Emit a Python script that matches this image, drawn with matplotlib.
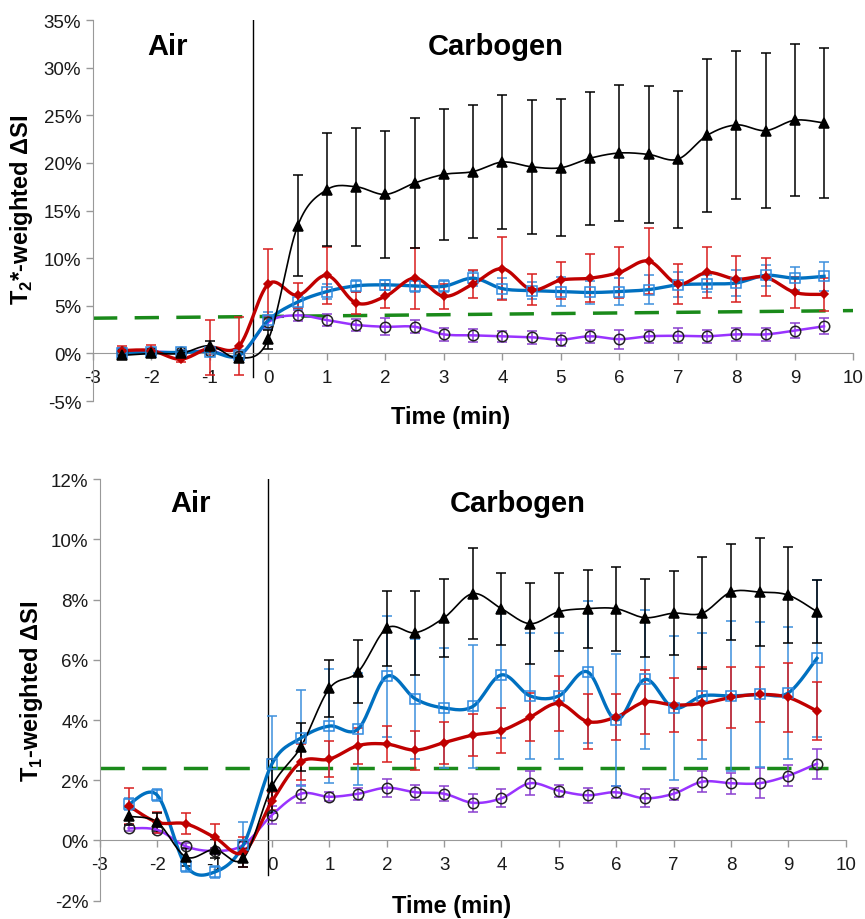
import numpy as np
import matplotlib
matplotlib.use("Agg")
import matplotlib.pyplot as plt
from matplotlib.ticker import FuncFormatter

plt.rcParams['font.family'] = ['Liberation Sans', 'DejaVu Sans']
plt.rcParams['mathtext.fontset'] = 'custom'
plt.rcParams['mathtext.rm'] = 'Liberation Sans'
plt.rcParams['mathtext.bf'] = 'Liberation Sans:bold'
plt.rcParams['axes.unicode_minus'] = False

# Time points (min)
t = [-2.5, -2, -1.5, -1, -0.5, 0, 0.5, 1, 1.5, 2, 2.5, 3, 3.5, 4, 4.5,
     5, 5.5, 6, 6.5, 7, 7.5, 8, 8.5, 9, 9.5]

# T2*-weighted signal change (%)
black_t2 = [-0.2, 0.0, 0.0, 0.8, -0.5, 1.5, 13.4, 17.2, 17.5, 16.7, 17.9, 18.8, 19.1,
            20.1, 19.6, 19.5, 20.5, 21.05, 20.9, 20.4, 22.9, 24.0, 23.4, 24.5, 24.2]
black_t2_err = [0.3, 0.3, 0.3, 0.5, 0.4, 1.0, 5.3, 5.9, 6.2, 6.7, 6.8, 6.9, 7.0,
                7.0, 7.05, 7.2, 7.0, 7.1, 7.2, 7.2, 8.0, 7.8, 8.1, 8.0, 7.9]
red_t2 = [0.3, 0.3, -0.6, 0.6, 0.8, 7.3, 6.1, 8.2, 5.3, 6.0, 7.9, 6.0, 7.3,
          8.9, 6.7, 7.7, 7.9, 8.5, 9.7, 7.3, 8.5, 7.8, 8.0, 6.4, 6.2]
red_t2_err = [0.5, 0.6, 0.3, 2.9, 3.05, 3.7, 1.3, 3.0, 1.2, 1.25, 3.2, 1.3, 1.5,
              3.3, 1.6, 1.95, 2.5, 2.7, 3.5, 2.1, 2.7, 2.45, 2.0, 1.6, 1.7]
blue_t2 = [0.0, 0.1, 0.1, 0.2, -0.2, 3.5, 5.4, 6.5, 7.1, 7.2, 7.1, 7.05, 7.9,
           6.8, 6.6, 6.5, 6.4, 6.5, 6.7, 7.2, 7.3, 7.4, 8.2, 7.9, 8.1]
blue_t2_err = [0.3, 0.3, 0.3, 0.3, 0.3, 0.9, 0.7, 0.8, 0.6, 0.5, 0.6, 0.65, 0.8,
               1.1, 0.9, 1.5, 1.2, 1.4, 1.55, 1.3, 0.9, 1.35, 1.1, 1.2, 1.5]
purple_t2 = [0.2, 0.2, 0.1, 0.3, -0.25, 3.3, 4.0, 3.5, 3.0, 2.8, 2.8, 2.0, 1.9,
             1.8, 1.7, 1.45, 1.8, 1.5, 1.8, 1.85, 1.8, 2.0, 2.0, 2.4, 2.85]
purple_t2_err = [0.4, 0.3, 0.3, 0.4, 0.3, 0.6, 0.6, 0.6, 0.6, 0.9, 0.7, 0.7, 0.7,
                 0.6, 0.7, 0.7, 0.7, 1.0, 0.7, 0.8, 0.7, 0.7, 0.7, 0.8, 0.85]
thresh_x_t2 = [-3, 10]
thresh_t2 = [3.7, 4.5]

# T1-weighted signal change (%)
black_t1 = [0.8, 0.6, -0.55, -0.3, -0.6, 1.8, 3.1, 5.05, 5.6, 7.05, 6.9, 7.4, 8.2,
            7.7, 7.2, 7.6, 7.7, 7.7, 7.4, 7.55, 7.55, 8.25, 8.25, 8.15, 7.6]
black_t1_err = [0.3, 0.3, 0.3, 0.3, 0.3, 0.9, 0.8, 0.95, 1.05, 1.25, 1.4, 1.3, 1.5,
                1.2, 1.35, 1.3, 1.3, 1.4, 1.3, 1.4, 1.85, 1.6, 1.8, 1.6, 1.05]
blue_t1 = [1.2, 1.5, -0.85, -1.05, -0.15, 2.55, 3.4, 3.8, 3.7, 5.45, 4.7, 4.4, 4.45,
           5.5, 4.8, 4.8, 5.6, 4.0, 5.35, 4.4, 4.8, 4.8, 4.85, 4.9, 6.05]
blue_t1_err = [0.2, 0.2, 0.2, 0.2, 0.75, 1.6, 1.6, 1.9, 1.85, 2.0, 2.0, 2.0, 2.05,
               2.1, 2.1, 2.1, 2.35, 2.2, 2.3, 2.4, 2.1, 2.5, 2.4, 2.2, 2.6]
red_t1 = [1.15, 0.6, 0.55, 0.1, -0.4, 1.3, 2.6, 2.7, 3.15, 3.2, 3.0, 3.25, 3.5,
          3.65, 4.1, 4.55, 3.95, 4.1, 4.6, 4.5, 4.55, 4.75, 4.85, 4.75, 4.3]
red_t1_err = [0.6, 0.35, 0.35, 0.45, 0.5, 0.3, 0.6, 0.6, 0.6, 0.6, 0.65, 0.7, 0.7,
              0.75, 0.8, 0.9, 0.9, 0.75, 1.05, 0.9, 1.2, 1.0, 0.9, 1.15, 0.95]
purple_t1 = [0.4, 0.35, -0.2, -0.35, -0.15, 0.85, 1.55, 1.45, 1.55, 1.75, 1.6, 1.55, 1.25,
             1.4, 1.9, 1.65, 1.5, 1.6, 1.4, 1.55, 1.95, 1.9, 1.9, 2.15, 2.55]
purple_t1_err = [0.1, 0.1, 0.1, 0.1, 0.1, 0.3, 0.3, 0.15, 0.2, 0.3, 0.25, 0.25, 0.3,
                 0.3, 0.4, 0.2, 0.25, 0.2, 0.3, 0.2, 0.35, 0.35, 0.5, 0.35, 0.5]
thresh_x_t1 = [-3, 9.7]
thresh_t1 = [2.4, 2.4]


def smooth(x, y, n=16):
    # Excel-like smoothed line: cubic Bezier through points (Catmull-Rom)
    x = np.asarray(x, float)
    y = np.asarray(y, float)
    px = np.concatenate([[x[0]], x, [x[-1]]])
    py = np.concatenate([[y[0]], y, [y[-1]]])
    xs, ys = [], []
    s = np.linspace(0, 1, n)
    for i in range(1, len(px) - 2):
        p0 = np.array([px[i - 1], py[i - 1]])
        p1 = np.array([px[i], py[i]])
        p2 = np.array([px[i + 1], py[i + 1]])
        p3 = np.array([px[i + 2], py[i + 2]])
        c1 = p1 + (p2 - p0) / 6
        c2 = p2 - (p3 - p1) / 6
        pts = ((1 - s) ** 3)[:, None] * p1 + (3 * (1 - s) ** 2 * s)[:, None] * c1 \
            + (3 * (1 - s) * s ** 2)[:, None] * c2 + (s ** 3)[:, None] * p2
        xs.extend(pts[:, 0])
        ys.extend(pts[:, 1])
    return np.array(xs), np.array(ys)


# color, marker, markersize, face, edge, line width, errorbar color
styles = {
    "purple": ("#9933ff", "o", 7.5, "none", "#222222", 1.8, "#8a3fd0"),
    "blue": ("#0070c0", "s", 7, "none", "#2f8ae0", 2.4, "#3d8fdc"),
    "red": ("#c00000", "D", 4.5, "#c00000", "#c00000", 2.4, "#d81e1e"),
    "black": ("#000000", "^", 7.5, "#000000", "#000000", 1.2, "#000000"),
}


def draw_panel(ax, series, thx, thy, ylim, yticks, vline_x, vline_ymin):
    ax.plot(thx, thy, color="#1a8a1a", lw=2.5, dashes=(7, 5), zorder=1)
    for name, vals, err in series:
        col, mk, ms, fc, ec, lw, ecol = styles[name]
        ax.errorbar(t, vals, yerr=err, fmt="none", ecolor=ecol, elinewidth=1.1,
                    capsize=3.5, capthick=1.1, zorder=2)
        sx, sy = smooth(t, vals)
        ax.plot(sx, sy, color=col, lw=lw, zorder=3)
        ax.plot(t, vals, ls="none", marker=mk, ms=ms, mfc=fc, mec=ec, mew=1.1, zorder=4)
    ax.axvline(vline_x, ymin=vline_ymin, ymax=1, color="black", lw=1.0, zorder=0)
    ax.set_xlim(-3, 10)
    ax.set_ylim(*ylim)
    ax.set_xticks(range(-3, 11))
    ax.set_yticks(yticks)
    ax.yaxis.set_major_formatter(FuncFormatter(lambda v, p: f"{v:.0f}%"))
    ax.spines["top"].set_visible(False)
    ax.spines["right"].set_visible(False)
    ax.spines["bottom"].set_position(("data", 0))
    ax.spines["bottom"].set_color("#999999")
    ax.spines["left"].set_color("#999999")
    ax.tick_params(axis="both", colors="#999999", labelcolor="#1a1a1a", labelsize=13.5,
                   length=5, width=1)
    ax.tick_params(axis="x", pad=6)


fig = plt.figure(figsize=(8.65, 9.2), dpi=100)
ax1 = fig.add_axes([0.1075, 0.563, 0.879, 0.414])
ax2 = fig.add_axes([0.1156, 0.020, 0.862, 0.458])

draw_panel(ax1, [("purple", purple_t2, purple_t2_err), ("blue", blue_t2, blue_t2_err),
                 ("red", red_t2, red_t2_err), ("black", black_t2, black_t2_err)],
           thresh_x_t2, thresh_t2, (-5, 35), range(-5, 36, 5), -0.26, 0.0625)
draw_panel(ax2, [("purple", purple_t1, purple_t1_err), ("blue", blue_t1, blue_t1_err),
                 ("red", red_t1, red_t1_err), ("black", black_t1, black_t1_err)],
           thresh_x_t1, thresh_t1, (-2, 12), range(-2, 13, 2), -0.07, 0.06)

# Phase labels
ax1.text(-1.73, 32.3, "Air", fontsize=21, fontweight="bold", ha="center", va="center")
ax1.text(3.88, 32.3, "Carbogen", fontsize=21, fontweight="bold", ha="center", va="center")
ax2.text(-1.42, 11.2, "Air", fontsize=21, fontweight="bold", ha="center", va="center")
ax2.text(4.29, 11.2, "Carbogen", fontsize=21, fontweight="bold", ha="center", va="center")

# Axis titles
fig.text(451 / 865, 1 - 418 / 920, "Time (min)", fontsize=17, fontweight="bold",
         ha="center", va="center")
fig.text(452 / 865, 1 - 907 / 920, "Time (min)", fontsize=17, fontweight="bold",
         ha="center", va="center")
fig.text(22 / 865, 1 - 210 / 920, r"T$_\mathbf{2}$*-weighted ΔSI", fontsize=17,
         fontweight="bold", rotation=90, ha="center", va="center")
fig.text(32 / 865, 1 - 691 / 920, r"T$_\mathbf{1}$-weighted ΔSI", fontsize=17,
         fontweight="bold", rotation=90, ha="center", va="center")

fig.savefig("out.png", dpi=100)
